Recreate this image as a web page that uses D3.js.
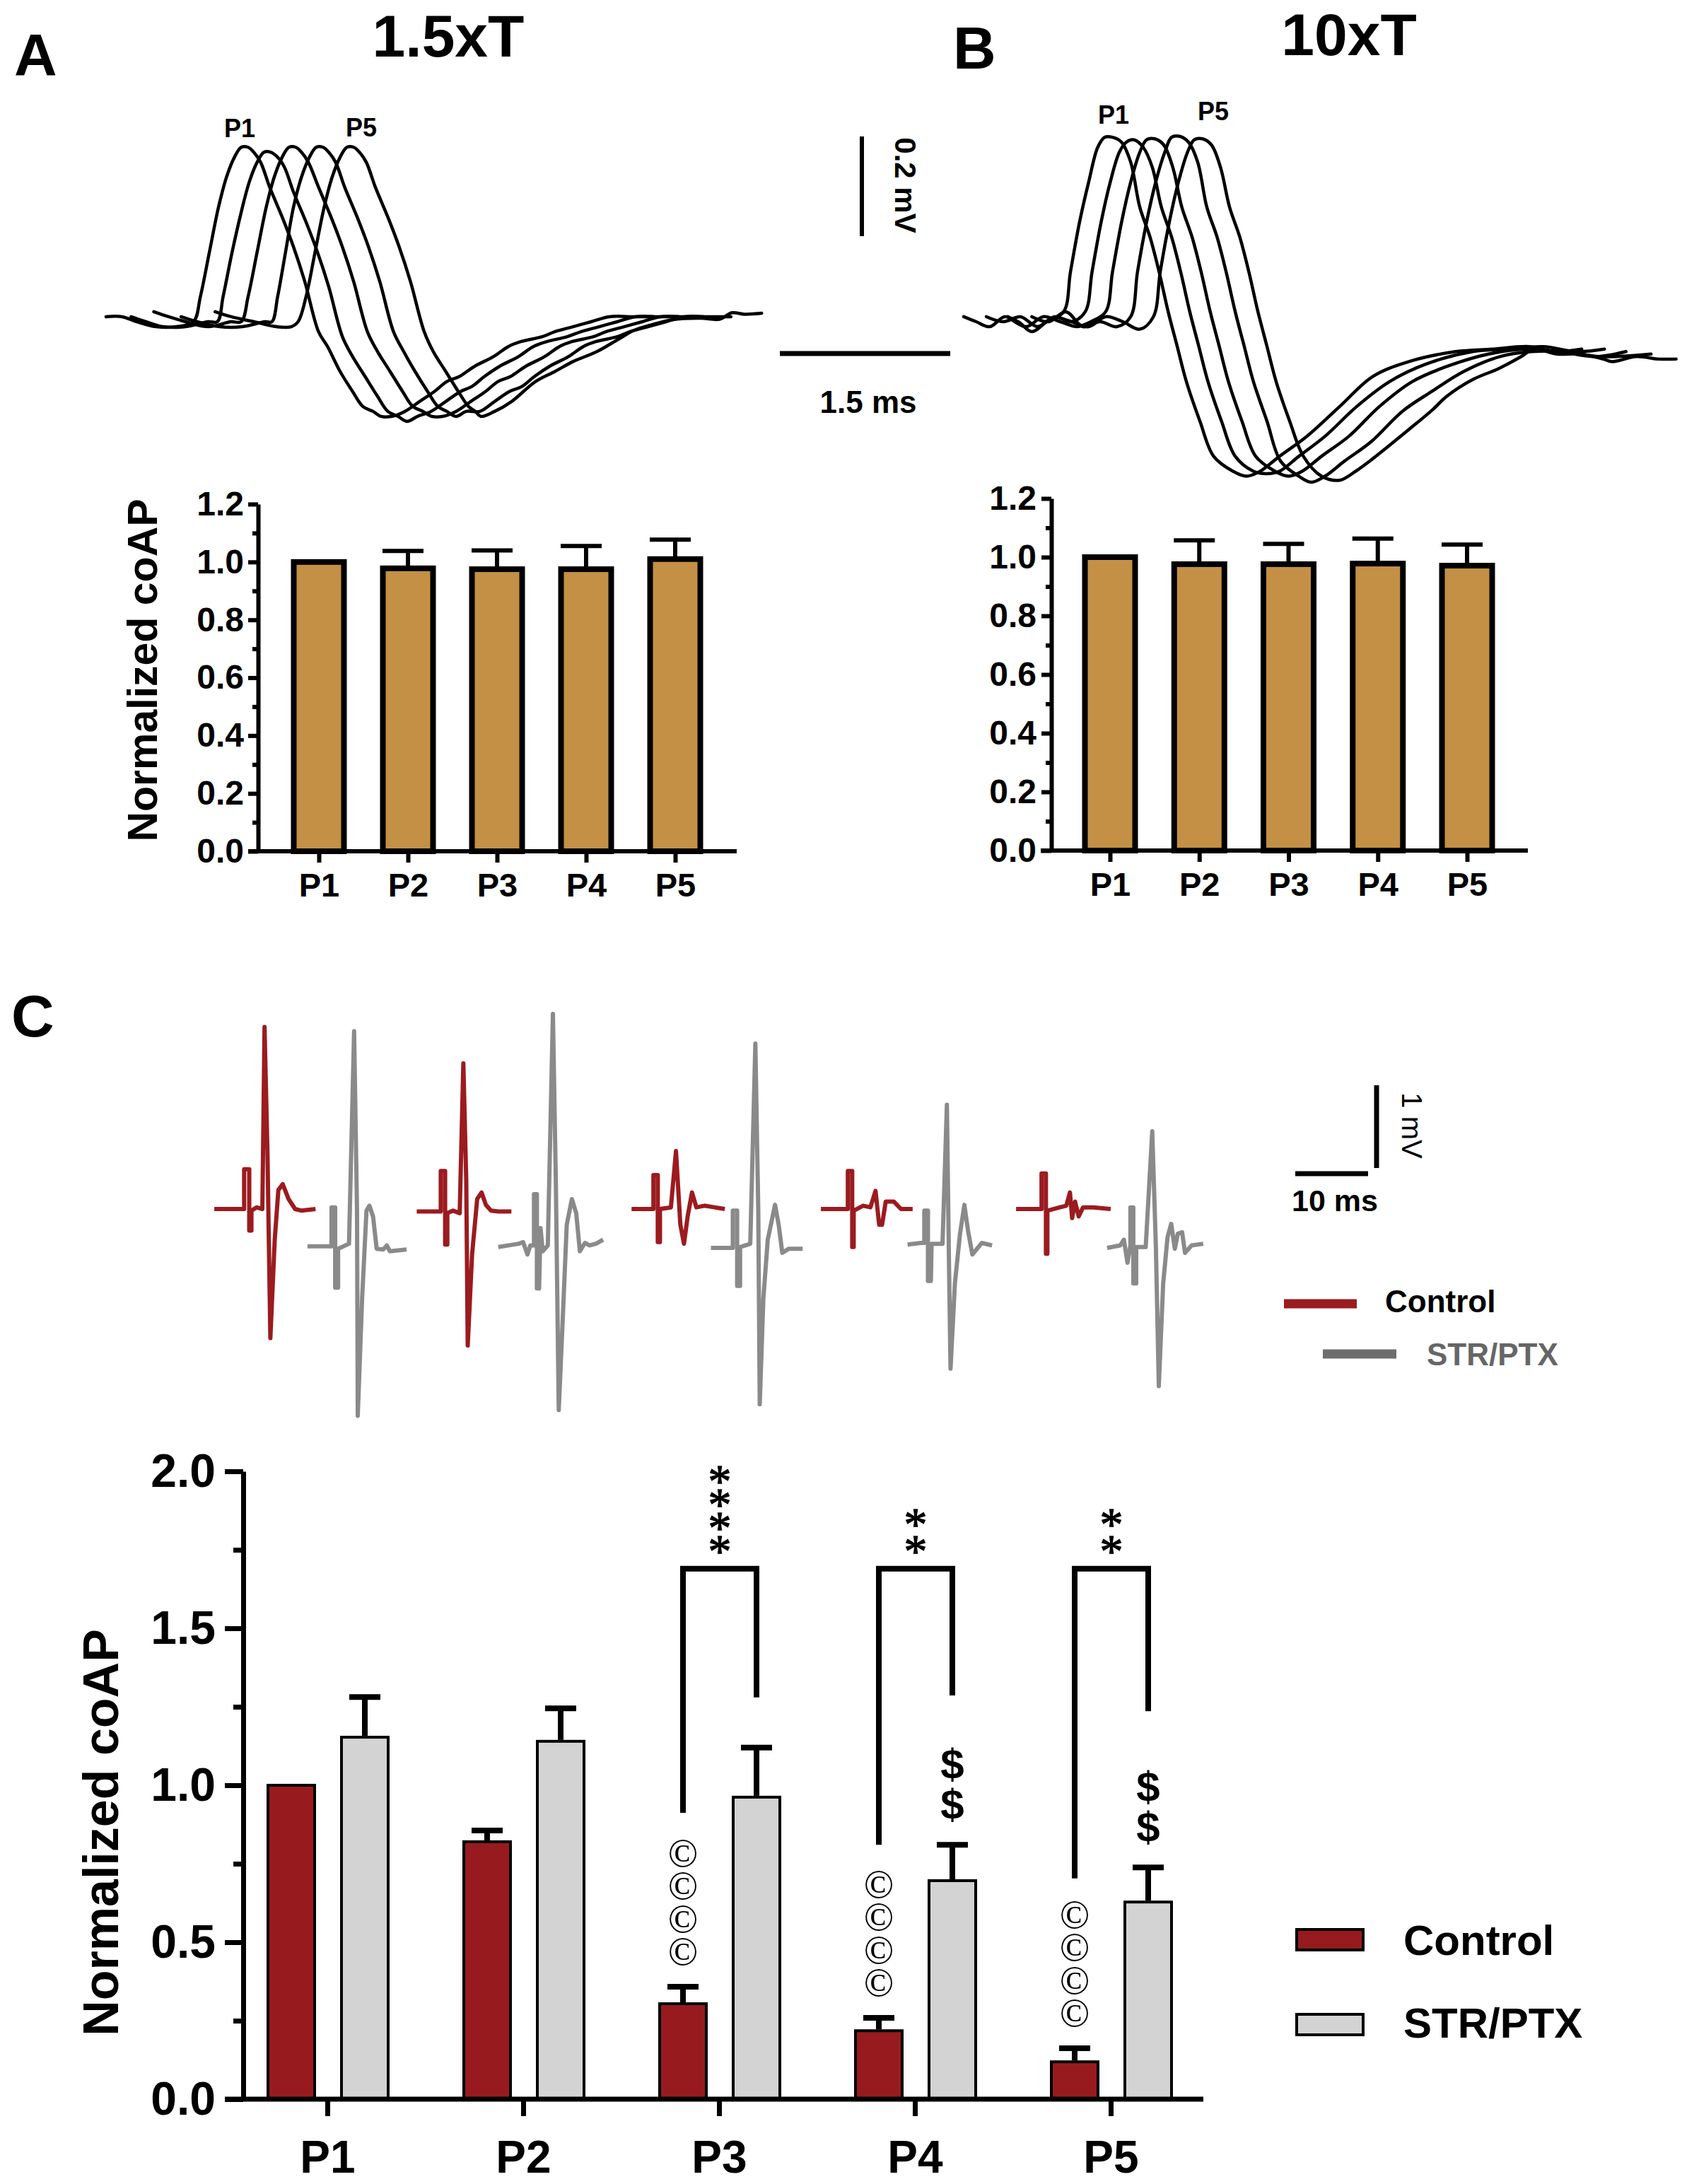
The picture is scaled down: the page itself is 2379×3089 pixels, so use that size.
<!DOCTYPE html>
<html><head><meta charset="utf-8">
<script src="https://cdn.jsdelivr.net/npm/d3@7/dist/d3.min.js"></script>
<style>html,body{margin:0;padding:0;background:#fff;}svg{display:block;}</style>
</head><body>
<svg id="fig" width="2379" height="3089" xmlns="http://www.w3.org/2000/svg"></svg>
<script>
// ---------------- DATA ----------------
const pulses = ["P1","P2","P3","P4","P5"];
const ticksAB = [0,0.2,0.4,0.6,0.8,1.0,1.2];
const minorTicksAB = [0.1,0.3,0.5,0.7,0.9,1.1];
const ticksC = [0,0.5,1.0,1.5,2.0];
const minorTicksC = [0.25,0.75,1.25,1.75];

const coapA_mean = [1.00,0.978,0.975,0.975,1.010];
const coapA_sem  = [0,0.060,0.065,0.080,0.067];
const coapB_mean = [1.00,0.976,0.976,0.978,0.971];
const coapB_sem  = [0,0.081,0.069,0.085,0.072];

const control_mean = [1.00,0.820,0.304,0.218,0.119];
const control_sem  = [0,0.036,0.054,0.041,0.043];
const strptx_mean  = [1.153,1.140,0.962,0.696,0.628];
const strptx_sem   = [0.128,0.105,0.158,0.114,0.110];

const sigPulses = ["P3","P4","P5"];
const sigStars = ["****","**","**"];
const bracketTop = 1.69;
const bracketLeftEnd = [0.912,0.81,0.703];
const bracketRightEnd = [1.28,1.286,1.236];
const copyPulses = ["P3","P4","P5"];
const copyMarks = ["\u00A9\u00A9\u00A9\u00A9","\u00A9\u00A9\u00A9\u00A9","\u00A9\u00A9\u00A9\u00A9"];
const dollarPulses = ["P4","P5"];
const dollarMarks = ["$$","$$"];

// coAP traces, 1.5xT (time ms, voltage mV)
const traceA1 = [[0,0.01],[0.14,0.01],[0.27,0],[0.44,-0.01],[0.62,-0.01],[0.77,0],[0.83,0.05],[0.91,0.14],[0.99,0.23],[1.06,0.29],[1.13,0.33],[1.19,0.35],[1.25,0.35],[1.30,0.34],[1.36,0.32],[1.44,0.27],[1.55,0.21],[1.65,0.15],[1.75,0.08],[1.87,-0.02],[1.95,-0.05],[2.06,-0.10],[2.17,-0.14],[2.26,-0.17],[2.35,-0.18],[2.42,-0.19],[2.51,-0.19],[2.63,-0.18],[2.76,-0.16],[2.89,-0.14],[3.00,-0.12],[3.11,-0.11],[3.24,-0.09],[3.41,-0.07],[3.54,-0.05],[3.65,-0.04],[3.84,-0.03],[3.95,-0.02],[4.11,-0.01],[4.27,0],[4.43,0.01],[4.65,0.01],[4.82,0.01]];
const traceA2 = [[0.22,0.01],[0.35,0],[0.5,-0.01],[0.7,-0.01],[0.9,0],[0.98,0],[1.03,0.05],[1.11,0.14],[1.19,0.22],[1.26,0.28],[1.33,0.32],[1.39,0.34],[1.45,0.34],[1.51,0.33],[1.57,0.31],[1.65,0.26],[1.76,0.20],[1.86,0.14],[1.96,0.07],[2.08,-0.03],[2.17,-0.07],[2.28,-0.11],[2.39,-0.15],[2.48,-0.18],[2.57,-0.19],[2.65,-0.20],[2.74,-0.19],[2.86,-0.18],[2.99,-0.16],[3.12,-0.14],[3.22,-0.13],[3.33,-0.11],[3.46,-0.09],[3.63,-0.07],[3.76,-0.05],[3.88,-0.04],[4.06,-0.03],[4.18,-0.02],[4.34,-0.01],[4.5,0],[4.66,0.01],[4.88,0.01],[5.04,0.01]];
const traceA3 = [[0.42,0.02],[0.55,0.01],[0.7,0],[0.9,-0.01],[1.1,0],[1.19,0],[1.25,0.05],[1.33,0.14],[1.41,0.23],[1.48,0.29],[1.55,0.33],[1.61,0.35],[1.67,0.35],[1.72,0.34],[1.78,0.32],[1.87,0.27],[1.98,0.21],[2.08,0.15],[2.18,0.08],[2.30,-0.02],[2.39,-0.06],[2.50,-0.10],[2.61,-0.14],[2.70,-0.17],[2.79,-0.18],[2.87,-0.19],[2.96,-0.19],[3.08,-0.18],[3.21,-0.16],[3.34,-0.14],[3.45,-0.12],[3.56,-0.11],[3.69,-0.09],[3.86,-0.07],[3.99,-0.05],[4.10,-0.04],[4.29,-0.03],[4.40,-0.02],[4.56,-0.01],[4.72,0],[4.88,0.01],[5.10,0.01],[5.26,0.01]];
const traceA4 = [[0.66,0.01],[0.8,0],[1.0,-0.01],[1.2,-0.01],[1.4,0],[1.46,0],[1.51,0.05],[1.58,0.14],[1.65,0.23],[1.72,0.29],[1.79,0.33],[1.85,0.35],[1.91,0.35],[1.96,0.34],[2.02,0.32],[2.10,0.27],[2.21,0.21],[2.31,0.15],[2.41,0.08],[2.53,-0.02],[2.62,-0.06],[2.72,-0.10],[2.83,-0.14],[2.92,-0.17],[3.00,-0.18],[3.08,-0.19],[3.17,-0.18],[3.29,-0.18],[3.42,-0.16],[3.55,-0.14],[3.66,-0.13],[3.77,-0.11],[3.90,-0.09],[4.07,-0.07],[4.20,-0.05],[4.31,-0.04],[4.50,-0.03],[4.61,-0.02],[4.77,-0.01],[4.93,0],[5.09,0.01],[5.31,0.01],[5.5,0.01]];
const traceA5 = [[0.96,0.02],[1.1,0.01],[1.3,0],[1.5,-0.01],[1.63,-0.01],[1.69,0],[1.76,0.05],[1.84,0.14],[1.92,0.23],[1.99,0.29],[2.06,0.33],[2.12,0.35],[2.18,0.35],[2.23,0.34],[2.29,0.32],[2.37,0.27],[2.48,0.21],[2.58,0.15],[2.68,0.08],[2.80,-0.02],[2.88,-0.06],[2.99,-0.10],[3.10,-0.14],[3.19,-0.17],[3.25,-0.18],[3.30,-0.19],[3.42,-0.18],[3.57,-0.16],[3.78,-0.12],[3.95,-0.10],[4.11,-0.08],[4.32,-0.06],[4.51,-0.035],[4.65,-0.017],[4.79,-0.007],[4.98,0.004],[5.23,0.007],[5.40,0.005],[5.51,0.018],[5.62,0.015],[5.77,0.017]];

// coAP traces, 10xT
const traceB1 = [[0,0.01],[0.11,0],[0.23,-0.01],[0.36,0.01],[0.48,0],[0.6,-0.02],[0.73,0],[0.88,0.02],[0.94,0.10],[1.02,0.20],[1.10,0.28],[1.18,0.35],[1.24,0.37],[1.31,0.37],[1.39,0.36],[1.47,0.32],[1.55,0.23],[1.64,0.17],[1.72,0.10],[1.80,0.02],[1.88,-0.05],[1.96,-0.12],[2.08,-0.20],[2.20,-0.27],[2.37,-0.30],[2.49,-0.31],[2.61,-0.30],[2.78,-0.27],[3.02,-0.23],[3.31,-0.17],[3.60,-0.11],[3.92,-0.08],[4.33,-0.06],[4.65,-0.055],[4.98,-0.05],[5.2,-0.06],[5.44,-0.055]];
const traceB2 = [[0.2,0.01],[0.35,0],[0.5,0.01],[0.65,-0.01],[0.8,0.01],[0.95,0],[1.07,0.02],[1.13,0.10],[1.21,0.20],[1.29,0.28],[1.37,0.34],[1.43,0.36],[1.50,0.365],[1.58,0.35],[1.66,0.31],[1.74,0.23],[1.83,0.17],[1.91,0.10],[1.99,0.02],[2.07,-0.05],[2.15,-0.12],[2.27,-0.20],[2.39,-0.27],[2.55,-0.30],[2.66,-0.305],[2.78,-0.30],[2.95,-0.27],[3.18,-0.23],[3.46,-0.17],[3.75,-0.12],[4.07,-0.085],[4.48,-0.06],[4.8,-0.055],[5.1,-0.05],[5.4,-0.06],[5.64,-0.055]];
const traceB3 = [[0.39,0.01],[0.55,-0.01],[0.7,0.01],[0.85,0],[1.0,-0.01],[1.12,0],[1.25,0.02],[1.31,0.10],[1.39,0.20],[1.47,0.28],[1.55,0.34],[1.61,0.365],[1.68,0.367],[1.76,0.355],[1.84,0.31],[1.92,0.23],[2.01,0.17],[2.09,0.10],[2.17,0.02],[2.25,-0.05],[2.33,-0.12],[2.45,-0.20],[2.57,-0.27],[2.74,-0.30],[2.86,-0.31],[2.98,-0.30],[3.15,-0.27],[3.39,-0.23],[3.66,-0.17],[3.95,-0.12],[4.25,-0.09],[4.62,-0.065],[4.95,-0.055],[5.25,-0.06],[5.55,-0.07],[5.83,-0.06]];
const traceB4 = [[0.60,0.01],[0.75,0],[0.9,0.02],[1.05,-0.01],[1.2,0],[1.35,-0.01],[1.47,0.01],[1.53,0.10],[1.61,0.20],[1.69,0.28],[1.77,0.34],[1.83,0.37],[1.90,0.372],[1.98,0.36],[2.06,0.32],[2.14,0.23],[2.23,0.17],[2.31,0.10],[2.39,0.02],[2.47,-0.05],[2.55,-0.12],[2.67,-0.20],[2.79,-0.28],[2.95,-0.31],[3.06,-0.322],[3.18,-0.31],[3.35,-0.28],[3.59,-0.24],[3.86,-0.18],[4.12,-0.14],[4.40,-0.10],[4.72,-0.07],[5.0,-0.06],[5.3,-0.06],[5.6,-0.07],[6.05,-0.065]];
const traceB5 = [[0.82,0.01],[0.95,0],[1.1,-0.01],[1.25,0.01],[1.4,0],[1.55,-0.015],[1.67,0.01],[1.73,0.10],[1.81,0.20],[1.89,0.28],[1.97,0.34],[2.03,0.365],[2.10,0.367],[2.18,0.355],[2.26,0.31],[2.34,0.23],[2.43,0.17],[2.51,0.10],[2.59,0.02],[2.67,-0.05],[2.75,-0.12],[2.87,-0.20],[2.99,-0.27],[3.15,-0.31],[3.31,-0.318],[3.45,-0.30],[3.60,-0.275],[3.92,-0.216],[4.13,-0.176],[4.25,-0.150],[4.49,-0.115],[4.70,-0.095],[4.90,-0.071],[5.02,-0.055],[5.22,-0.065],[5.43,-0.065],[5.63,-0.075],[5.71,-0.08],[5.92,-0.07],[6.12,-0.075],[6.27,-0.075]];

// panel C sample traces (time ms along the row, mV)
const ctrlTrace1 = [[0.3,0],[4.4,0],[4.4,0.48],[5.1,0.48],[5.1,-0.26],[5.4,-0.26],[5.4,-0.02],[6.1,0.02],[6.9,0],[7.2,2.20],[7.6,0.69],[8.0,-1.56],[8.6,-0.37],[9.1,0.23],[9.7,0.30],[10.5,0.12],[11.4,0],[12.3,-0.02],[14.2,0]];
const strTrace1 = [[13.1,-0.45],[16.4,-0.45],[16.4,0.02],[16.9,0.02],[16.9,-0.95],[17.3,-0.95],[17.3,-0.48],[18.8,-0.42],[19.5,2.15],[19.9,-0.02],[20.0,-2.50],[20.6,-1.08],[21.2,-0.02],[21.6,0.04],[22.1,-0.09],[22.6,-0.48],[23.5,-0.49],[24.0,-0.44],[24.4,-0.51],[26.7,-0.49]];
const ctrlTrace2 = [[28.1,-0.03],[31.4,-0.03],[31.4,0.46],[32.0,0.46],[32.0,-0.43],[32.3,-0.43],[32.3,-0.05],[33.1,-0.02],[34.0,-0.05],[34.5,1.76],[34.9,0.34],[35.1,-1.65],[35.7,-0.55],[36.4,0.12],[37.0,0.20],[37.6,0.05],[38.3,-0.02],[39.3,-0.03],[41.1,-0.03]];
const strTrace2 = [[39.3,-0.46],[42.1,-0.42],[42.7,-0.40],[43.3,-0.55],[43.7,-0.44],[44.2,-0.44],[44.2,0.18],[44.6,0.18],[44.6,-0.96],[44.9,-0.96],[45.1,-0.23],[45.4,-0.51],[46.1,-0.44],[46.8,2.36],[47.2,0.34],[47.6,-2.43],[48.1,-1.43],[48.7,-0.19],[49.4,0.12],[50.0,-0.05],[50.5,-0.51],[51.2,-0.41],[51.8,-0.44],[52.7,-0.42],[53.7,-0.37]];
const ctrlTrace3 = [[57.6,0],[60.6,0],[60.6,0.41],[61.2,0.41],[61.2,-0.40],[61.5,-0.40],[61.5,0],[63.0,0.02],[63.7,0.70],[64.3,-0.19],[64.8,-0.42],[65.3,-0.09],[65.9,0.20],[66.5,0.02],[67.6,0.04],[69.0,0.02],[70.4,0]];
const strTrace3 = [[68.5,-0.47],[71.5,-0.47],[71.5,-0.02],[72.1,-0.02],[72.1,-0.93],[72.5,-0.93],[72.5,-0.46],[73.9,-0.42],[74.6,2.00],[75.0,-0.02],[75.2,-2.36],[75.7,-1.08],[76.3,-0.37],[77.3,0.05],[77.8,-0.19],[78.3,-0.53],[79.2,-0.48],[81.1,-0.48]];
const ctrlTrace4 = [[83.6,0],[87.3,0],[87.3,0.46],[87.9,0.46],[87.9,-0.46],[88.1,-0.46],[88.1,-0.02],[89.4,0.04],[90.4,0.02],[91.1,0.22],[91.6,-0.19],[92.0,-0.19],[92.5,0.09],[93.6,0.09],[94.6,0],[96.2,0]];
const strTrace4 = [[95.5,-0.43],[97.3,-0.41],[97.8,-0.41],[97.8,-0.02],[98.3,-0.02],[98.3,-0.87],[98.7,-0.87],[98.8,-0.42],[100.3,-0.42],[100.9,1.26],[101.2,-0.73],[101.4,-1.93],[102.0,-0.90],[102.7,-0.30],[103.3,0.05],[103.8,-0.26],[104.4,-0.55],[105.7,-0.41],[107.1,-0.44]];
const ctrlTrace5 = [[110.4,0],[113.9,0],[113.9,0.43],[114.5,0.43],[114.5,-0.54],[114.7,-0.54],[114.7,-0.02],[116.4,0.02],[117.3,0.04],[117.8,0.20],[118.1,-0.11],[118.5,0.09],[119.0,-0.09],[119.6,0.02],[121.0,0.02],[123.4,0]];
const strTrace5 = [[122.9,-0.47],[124.7,-0.44],[125.2,-0.37],[125.7,-0.65],[126.1,-0.44],[126.1,0.02],[126.5,0.02],[126.5,-0.90],[126.9,-0.90],[126.9,-0.46],[128.2,-0.46],[129.1,0.94],[129.6,-0.46],[130.0,-2.14],[130.6,-0.90],[131.2,-0.34],[131.7,-0.18],[132.2,-0.48],[132.6,-0.30],[133.2,-0.28],[133.6,-0.53],[134.5,-0.44],[136.1,-0.42]];

// ---------------- DRAWING ----------------
const svg = d3.select("#fig");
const SANS = '"Liberation Sans", Arial, Helvetica, sans-serif';
const SERIF = '"Liberation Serif", "Times New Roman", serif';
const RED = "#971B1E", LGRAY = "#D3D3D3", TAN = "#C39046";

function T(x,y,s,size,o={}){
  return svg.append("text").attr("x",x).attr("y",y).text(s)
    .attr("font-family",o.family||SANS).attr("font-size",size)
    .attr("font-weight",o.weight||"bold").attr("fill",o.fill||"#000")
    .attr("text-anchor",o.anchor||"start")
    .attr("stroke",o.stroke?"#000":null).attr("stroke-width",o.stroke||null)
    .attr("transform",o.rotate!=null?`rotate(${o.rotate},${x},${y})`:null);
}
// vertical stack of symbols as ONE text element (vertical writing mode);
// cyBottom = centre of lowest glyph, pitch = centre-to-centre distance,
// shift = extra vertical correction for glyphs that sit high in their em box
function vstack(x, cyBottom, str, size, pitch, o={}){
  const n = [...str].length;
  const shift = o.shift || 0;
  const t = svg.append("text").text(str)
    .attr("font-family",o.family||SANS).attr("font-size",size)
    .attr("font-weight",o.weight||"bold").attr("fill","#000")
    .attr("stroke",o.stroke?"#000":null).attr("stroke-width",o.stroke||null)
    .style("writing-mode","vertical-rl").style("text-orientation","upright")
    .attr("x",x).attr("y",0);
  let bb = t.node().getBBox();
  if (bb.height > bb.width*0.9 && n > 1) {
    const adv = bb.height / n;
    t.style("letter-spacing",(pitch-adv)+"px");
    bb = t.node().getBBox();
    const firstC = bb.y + adv/2;
    const want = cyBottom - (n-1)*pitch;
    t.attr("y", want - firstC + shift);
    bb = t.node().getBBox();
    t.attr("x", x - (bb.x + bb.width/2 - x));
  } else {
    t.remove();
    [...str].forEach((ch,k)=>{
      T(x, cyBottom-(n-1-k)*pitch + size*0.35 + shift, ch, size, {anchor:"middle",family:o.family,weight:o.weight,stroke:o.stroke});
    });
  }
}
function L(x1,y1,x2,y2,w,c){
  return svg.append("line").attr("x1",x1).attr("y1",y1).attr("x2",x2).attr("y2",y2)
    .attr("stroke",c||"#000").attr("stroke-width",w);
}

// Panel labels and titles
T(20,107,"A",84);
T(1348,97,"B",84);
T(16,1466,"C",84);
T(634,80,"1.5xT",84,{anchor:"middle"});
T(1908,78,"10xT",84,{anchor:"middle"});

// ---- traces A / B
const pxPerMs = 160.7, pxPerMv = 705;
const xTA = d3.scaleLinear().domain([0,1]).range([150,150+pxPerMs]);
const xTB = d3.scaleLinear().domain([0,1]).range([1363,1363+pxPerMs]);
const yTAB = d3.scaleLinear().domain([0,1]).range([455,455-pxPerMv]);
const lineA = d3.line().x(d=>xTA(d[0])).y(d=>yTAB(d[1])).curve(d3.curveCatmullRom.alpha(0.5));
const lineB = d3.line().x(d=>xTB(d[0])).y(d=>yTAB(d[1])).curve(d3.curveCatmullRom.alpha(0.5));
[traceA1,traceA2,traceA3,traceA4,traceA5].forEach(tr=>{
  svg.append("path").attr("d",lineA(tr)).attr("fill","none").attr("stroke","#000")
    .attr("stroke-width",4.5).attr("stroke-linejoin","round").attr("stroke-linecap","round");
});
[traceB1,traceB2,traceB3,traceB4,traceB5].forEach(tr=>{
  svg.append("path").attr("d",lineB(tr)).attr("fill","none").attr("stroke","#000")
    .attr("stroke-width",4.5).attr("stroke-linejoin","round").attr("stroke-linecap","round");
});
T(339,194,"P1",36,{anchor:"middle"});
T(511,193,"P5",36,{anchor:"middle"});
T(1575,175,"P1",36,{anchor:"middle"});
T(1716,170,"P5",36,{anchor:"middle"});

// scale bars A/B
const vLen = yTAB(0)-yTAB(0.2), hLen = xTA(1.5)-xTA(0);
L(1219,193,1219,193+vLen,6);
T(1266,262,"0.2 mV",42,{anchor:"middle",rotate:90});
L(1103,500,1103+hLen,500,7);
T(1228,584,"1.5 ms",44,{anchor:"middle"});

// ---- bar panels A/B
function barPanel(o){
  const y = d3.scaleLinear().domain([0,1.2]).range([o.y0,o.y1]);
  const x = d3.scalePoint().domain(pulses).range([o.c0,o.c1]);
  const g = svg.append("g");
  g.selectAll("rect").data(o.mean).join("rect")
    .attr("x",(d,i)=>x(pulses[i])-35.5).attr("width",71)
    .attr("y",d=>y(d)).attr("height",d=>y(0)-y(d))
    .attr("fill",TAN).attr("stroke","#000").attr("stroke-width",8);
  o.mean.forEach((m,i)=>{
    if(o.sem[i]<=0) return;
    const cx = x(pulses[i]), top = y(m+o.sem[i]);
    g.append("line").attr("x1",cx).attr("x2",cx).attr("y1",y(m)).attr("y2",top).attr("stroke","#000").attr("stroke-width",6);
    g.append("line").attr("x1",cx-36).attr("x2",cx+22).attr("y1",top).attr("y2",top).attr("stroke","#000").attr("stroke-width",6);
  });
  const gy = g.append("g").attr("transform",`translate(${o.ax},0)`)
    .call(d3.axisLeft(y).tickValues(ticksAB).tickFormat(d3.format(".1f")).tickSize(14).tickSizeOuter(0).tickPadding(o.pad));
  gy.select(".domain").attr("stroke","#000").attr("stroke-width",6);
  gy.selectAll(".tick line").attr("stroke","#000").attr("stroke-width",6);
  gy.selectAll(".tick text").attr("font-family",SANS).attr("font-weight","bold").attr("font-size",48).attr("fill","#000");
  const gm = g.append("g").attr("transform",`translate(${o.ax},0)`)
    .call(d3.axisLeft(y).tickValues(minorTicksAB).tickFormat("").tickSize(8));
  gm.select(".domain").remove();
  gm.selectAll(".tick line").attr("stroke","#000").attr("stroke-width",6);
  g.append("line").attr("x1",o.xa0).attr("x2",o.xa1).attr("y1",y(0)).attr("y2",y(0)).attr("stroke","#000").attr("stroke-width",6);
  const gx = g.append("g").attr("transform",`translate(0,${y(0)})`)
    .call(d3.axisBottom(x).tickSize(16).tickSizeOuter(0));
  gx.select(".domain").remove();
  gx.selectAll(".tick line").attr("stroke","#000").attr("stroke-width",6);
  gx.selectAll(".tick text").attr("y",64).attr("dy",null).attr("font-family",SANS)
    .attr("font-weight","bold").attr("font-size",47).attr("fill","#000");
}
barPanel({y0:1204,y1:713,c0:451,c1:955,ax:365,xa0:351,xa1:1042,pad:6,mean:coapA_mean,sem:coapA_sem});
barPanel({y0:1203,y1:705,c0:1570,c1:2075,ax:1487,xa0:1472,xa1:2161,pad:7,mean:coapB_mean,sem:coapB_sem});
T(222,948,"Normalized coAP",59,{anchor:"middle",rotate:-90});

// ---- panel C traces
const xTC = d3.scaleLinear().domain([0,10]).range([300,403]);
const yTC = d3.scaleLinear().domain([0,1]).range([1710,1593]);
const lineC = d3.line().x(d=>xTC(d[0])).y(d=>yTC(d[1]));
[strTrace1,strTrace2,strTrace3,strTrace4,strTrace5].forEach(tr=>{
  svg.append("path").attr("d",lineC(tr)).attr("fill","none").attr("stroke","#8A8A8A")
    .attr("stroke-width",6).attr("stroke-linejoin","round");
});
[ctrlTrace1,ctrlTrace2,ctrlTrace3,ctrlTrace4,ctrlTrace5].forEach(tr=>{
  svg.append("path").attr("d",lineC(tr)).attr("fill","none").attr("stroke","#9B1B1F")
    .attr("stroke-width",6).attr("stroke-linejoin","round");
});
// scale bars C
const vC = yTC(0)-yTC(1), hC = xTC(10)-xTC(0);
L(1947,1535,1947,1535+vC,7);
L(1832,1660,1832+hC,1660,7);
T(1983,1592,"1 mV",40,{anchor:"middle",rotate:90,weight:"normal"});
T(1888,1713,"10 ms",43,{anchor:"middle"});
// trace legend
L(1816,1844,1919,1844,13,"#9B1B1F");
T(1959,1856,"Control",44);
L(1871,1915,1975,1915,13,"#6E6E6E");
T(2018,1931,"STR/PTX",44,{fill:"#666666"});

// ---- panel C bar chart
const yC = d3.scaleLinear().domain([0,2]).range([2969,2081]);
const xC = d3.scalePoint().domain(pulses).range([463,1571]);
const offCtrl = -51, offStr = 53, bw = 66;
const gC = svg.append("g");
[[control_mean,control_sem,offCtrl,RED],[strptx_mean,strptx_sem,offStr,LGRAY]].forEach(([mean,sem,off,fill])=>{
  mean.forEach((m,i)=>{
    const cx = xC(pulses[i])+off;
    gC.append("rect").attr("x",cx-bw/2).attr("width",bw).attr("y",yC(m)).attr("height",yC(0)-yC(m))
      .attr("fill",fill).attr("stroke","#000").attr("stroke-width",4);
  });
  mean.forEach((m,i)=>{
    if(sem[i]<=0) return;
    const cx = xC(pulses[i])+off, top = yC(m+sem[i]);
    gC.append("line").attr("x1",cx).attr("x2",cx).attr("y1",yC(m)-2).attr("y2",top).attr("stroke","#000").attr("stroke-width",8);
    gC.append("line").attr("x1",cx-22).attr("x2",cx+22).attr("y1",top).attr("y2",top).attr("stroke","#000").attr("stroke-width",8);
  });
});
const gyC = gC.append("g").attr("transform","translate(344,0)")
  .call(d3.axisLeft(yC).tickValues(ticksC).tickFormat(d3.format(".1f")).tickSize(26).tickSizeOuter(0).tickPadding(13));
gyC.select(".domain").attr("stroke","#000").attr("stroke-width",7);
gyC.selectAll(".tick line").attr("stroke","#000").attr("stroke-width",7);
gyC.selectAll(".tick text").attr("font-family",SANS).attr("font-weight","bold").attr("font-size",66).attr("fill","#000");
const gmC = gC.append("g").attr("transform","translate(344,0)")
  .call(d3.axisLeft(yC).tickValues(minorTicksC).tickFormat("").tickSize(14));
gmC.select(".domain").remove();
gmC.selectAll(".tick line").attr("stroke","#000").attr("stroke-width",7);
gC.append("line").attr("x1",318).attr("x2",1702).attr("y1",yC(0)).attr("y2",yC(0)).attr("stroke","#000").attr("stroke-width",7);
const gxC = gC.append("g").attr("transform",`translate(0,${yC(0)})`)
  .call(d3.axisBottom(xC).tickSize(24).tickSizeOuter(0));
gxC.select(".domain").remove();
gxC.selectAll(".tick line").attr("stroke","#000").attr("stroke-width",7);
gxC.selectAll(".tick text").attr("y",104).attr("dy",null).attr("font-family",SANS)
  .attr("font-weight","bold").attr("font-size",64).attr("fill","#000");
T(167,2592,"Normalized coAP",70,{anchor:"middle",rotate:-90});

// brackets + significance stars (real text)
sigPulses.forEach((p,i)=>{
  const xl = xC(p)+offCtrl, xr = xC(p)+offStr, yt = yC(bracketTop);
  gC.append("path").attr("d",`M${xl},${yC(bracketLeftEnd[i])}V${yt}H${xr}V${yC(bracketRightEnd[i])}`)
    .attr("fill","none").attr("stroke","#000").attr("stroke-width",8).attr("stroke-linejoin","miter");
  const n = sigStars[i].length;
  const pitch = n > 2 ? 33 : 38;
  vstack(xC(p)+1, yC(1.768), sigStars[i], 66, pitch, {family:SERIF, weight:"normal", stroke:1.3, shift:9});
});
// © marks (vs P1, control)
copyPulses.forEach((p,i)=>{
  const j = pulses.indexOf(p);
  const cyB = yC(control_mean[j]+control_sem[j]) - 50;
  vstack(xC(p)+offCtrl, cyB, copyMarks[i], 56, 46.5, {family:SERIF, weight:"normal"});
});
// $ marks
dollarPulses.forEach((p,i)=>{
  const j = pulses.indexOf(p);
  const cyB = yC(strptx_mean[j]+strptx_sem[j]) - 57;
  vstack(xC(p)+offStr, cyB, dollarMarks[i], 60, 57, {});
});
// legend C
svg.append("rect").attr("x",1834).attr("y",2729).attr("width",94).attr("height",29).attr("fill",RED).attr("stroke","#000").attr("stroke-width",4);
svg.append("rect").attr("x",1834).attr("y",2849).attr("width",94).attr("height",29).attr("fill",LGRAY).attr("stroke","#000").attr("stroke-width",4);
T(1985,2765,"Control",60);
T(1985,2882,"STR/PTX",60);
</script>
</body></html>
